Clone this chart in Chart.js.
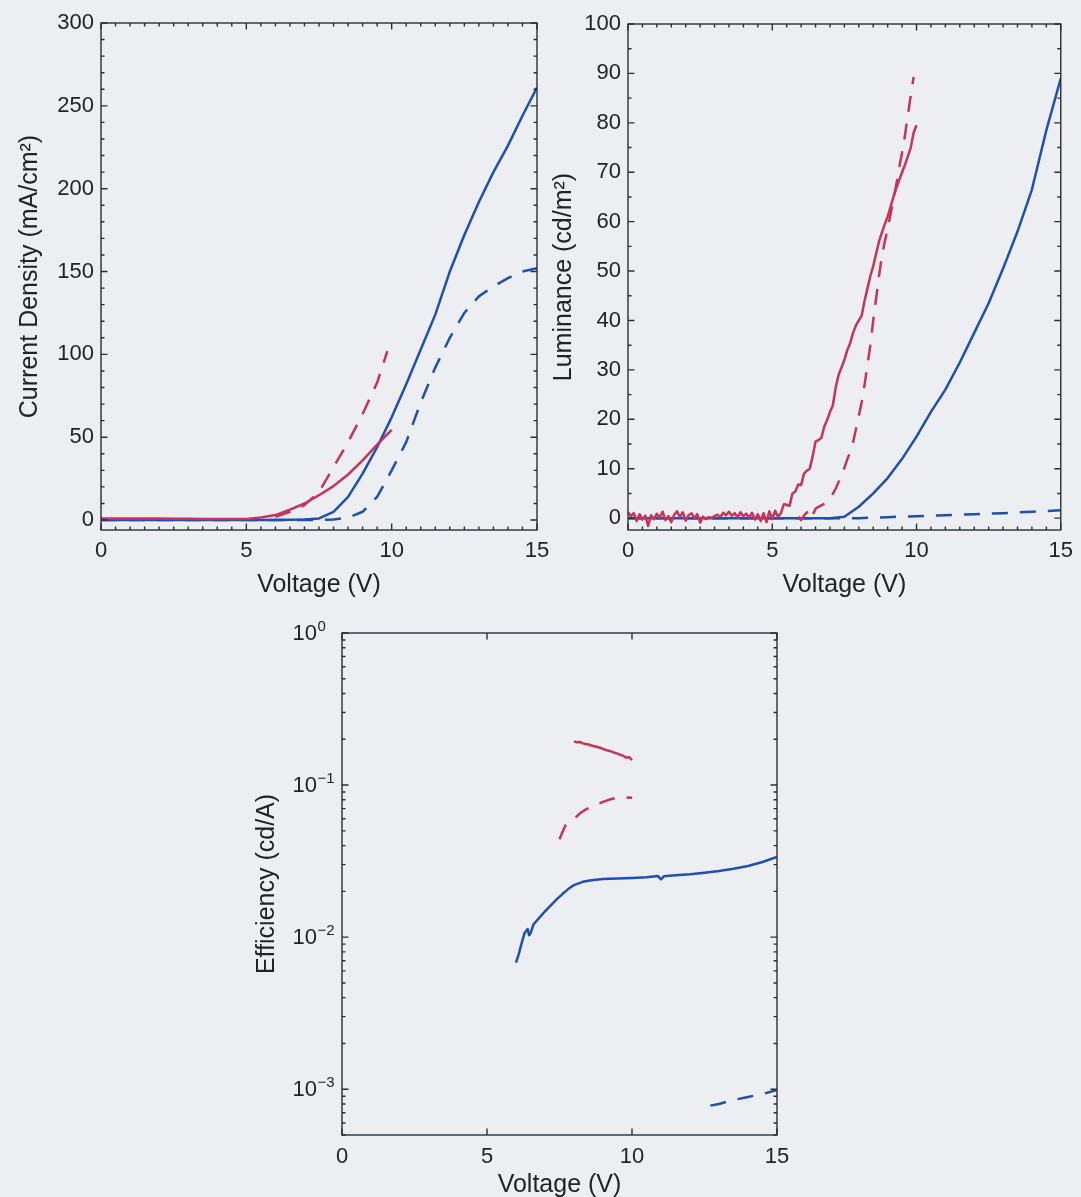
<!DOCTYPE html>
<html>
<head>
<meta charset="utf-8">
<script src="https://cdn.jsdelivr.net/npm/chart.js@4.4.1/dist/chart.umd.min.js"></script>
<style>
  html, body { margin: 0; padding: 0; width: 1081px; height: 1197px; overflow: hidden; background: #eceef1; }
  canvas { position: absolute; left: 0; top: 0; }
</style>
</head>
<body>
<canvas id="cJ" width="1081" height="1240"></canvas>
<canvas id="cL" width="1081" height="1240"></canvas>
<canvas id="cE" width="1081" height="1240"></canvas>
<script>
// ---------- Current density J (mA/cm^2) vs voltage ----------
const jRedSolidV  = [0, 0.5, 1, 1.5, 2, 2.5, 3, 3.5, 4, 4.5, 5, 5.5, 6, 6.5, 7, 7.5, 8, 8.5, 9, 9.5, 10];
const jRedSolid   = [1.0, 1.0, 1.0, 0.9, 0.9, 0.8, 0.8, 0.7, 0.6, 0.6, 0.7, 1.5, 3.0, 6.3, 10.0, 15.0, 20.5, 27.5, 36.0, 45.5, 54.5];
const jRedDashV   = [6, 6.5, 7, 7.5, 8, 8.5, 9, 9.5, 9.85];
const jRedDash    = [2, 5, 9, 17, 32, 47, 64, 83, 102];
const jBlueSolidV = [0, 1, 2, 3, 4, 5, 6, 7, 7.5, 8, 8.5, 9, 9.5, 10, 10.5, 11, 11.5, 12, 12.5, 13, 13.5, 14, 14.5, 15];
const jBlueSolid  = [0, 0, 0, 0, 0, 0, 0, 0.3, 1, 5, 14, 28, 44, 62, 82, 103, 124, 150, 172, 192, 210, 226, 244, 261];
const jBlueDashV  = [0, 7, 8, 8.5, 9, 9.5, 10, 10.5, 11, 11.5, 12, 12.5, 13, 13.5, 14, 14.5, 15];
const jBlueDash   = [0, 0, 0.3, 1.5, 5, 14, 30, 47, 71, 92, 110, 125, 135, 141, 146, 150, 152];

// ---------- Luminance (cd/m^2) vs voltage ----------
const lumRedSolidV = [
  0.0, 0.1, 0.2, 0.3, 0.4, 0.5, 0.6, 0.7, 0.8, 0.9,
  1.0, 1.1, 1.2, 1.3, 1.4, 1.5, 1.6, 1.7, 1.8, 1.9,
  2.0, 2.1, 2.2, 2.3, 2.4, 2.5, 2.6, 2.7, 2.8, 2.9,
  3.0, 3.1, 3.2, 3.3, 3.4, 3.5, 3.6, 3.7, 3.8, 3.9,
  4.0, 4.1, 4.2, 4.3, 4.4, 4.5, 4.6, 4.7, 4.8, 4.9,
  5.0, 5.1, 5.2, 5.3, 5.4, 5.5, 5.6, 5.7, 5.8, 5.9,
  6.0, 6.1, 6.2, 6.3, 6.4, 6.5, 6.6, 6.7, 6.8, 6.9,
  7.0, 7.1, 7.2, 7.3, 7.4, 7.5, 7.6, 7.7, 7.8, 7.9,
  8.0, 8.1, 8.2, 8.3, 8.4, 8.5, 8.6, 8.7, 8.8, 8.9,
  9.0, 9.1, 9.2, 9.3, 9.4, 9.5, 9.6, 9.7, 9.8, 9.9,
  10.0];
const lumRedSolid = [
  1.2, 0.4, 1.0, -0.6, 0.8, -0.3, 0.5, -1.6, 0.6, -0.2,
  0.9, 0.1, 1.3, -0.4, 0.4, -0.8, 0.7, 1.4, 0.2, 1.2,
  -0.5, 0.6, 1.0, 0.0, 0.8, -0.9, 0.3, -0.2, 0.2, 0.1,
  0.4, 0.7, 0.3, 1.1, 0.6, 1.3, 0.5, 1.0, 0.2, 1.2,
  0.4, 0.9, 0.1, 1.1, -0.3, 0.8, -0.6, 1.0, -0.8, 1.4,
  -0.2, 1.5, 0.3, 1.0, 2.8, 2.7, 2.5, 5.0, 5.4, 6.8,
  6.7, 9.0, 9.6, 10.0, 12.5, 15.5, 15.8, 16.2, 18.5, 19.8,
  21.5, 22.8, 26.5, 29.0, 30.5, 32.0, 34.0, 35.4, 37.5, 39.0,
  40.0, 41.0, 44.0, 46.5, 49.0, 51.0, 53.5, 56.0, 57.8, 59.5,
  61.0, 63.0, 65.0, 66.8, 68.4, 70.0, 71.5, 73.2, 75.0, 78.0,
  79.5];
const lumRedDashV = [
  5.9, 6.0, 6.1, 6.2, 6.3, 6.4, 6.5, 6.6, 6.7, 6.8, 6.9,
  7.0, 7.1, 7.2, 7.3, 7.4, 7.5, 7.6, 7.7, 7.8, 7.9,
  8.0, 8.1, 8.2, 8.3, 8.4, 8.5, 8.6, 8.7, 8.8, 8.9,
  9.0, 9.1, 9.2, 9.3, 9.4, 9.5, 9.6, 9.7, 9.8, 9.9];
const lumRedDash = [
  0.3, -0.4, 0.5, 1.2, -0.2, 0.6, 1.9, 2.3, 2.6, 2.9, 3.2,
  4.0, 4.9, 6.0, 7.3, 8.8, 10.2, 11.9, 13.4, 15.3, 18.0,
  20.7, 23.5, 27.0, 31.0, 35.0, 40.0, 44.5, 49.0, 53.0, 56.0,
  58.5, 61.5, 64.5, 67.5, 71.0, 74.0, 77.5, 81.5, 85.5, 89.3];
const lumBlueSolidV = [0, 7, 7.5, 8, 8.5, 9, 9.5, 10, 10.5, 11, 11.5, 12, 12.5, 13, 13.5, 14, 14.5, 15];
const lumBlueSolid  = [0, 0, 0.3, 2.3, 5.0, 8.1, 12.0, 16.5, 21.5, 26.0, 31.5, 37.5, 43.5, 50.5, 58.0, 66.5, 78.5, 89.0];
const lumBlueDashV  = [0, 8, 9, 10, 11, 12, 13, 14, 15];
const lumBlueDash   = [0, 0, 0.2, 0.4, 0.6, 0.8, 1.0, 1.3, 1.6];

// ---------- Efficiency (cd/A) vs voltage ----------
const effRedSolidV = [8.0, 8.1, 8.2, 8.3, 8.4, 8.5, 8.6, 8.7, 8.8, 8.9, 9.0, 9.1, 9.2, 9.3, 9.4, 9.5, 9.6, 9.7, 9.8, 9.9, 10.0];
const effRedSolid  = [0.194, 0.191, 0.192, 0.188, 0.186, 0.185, 0.182, 0.180, 0.178, 0.176, 0.173, 0.170, 0.168, 0.166, 0.163, 0.161, 0.158, 0.156, 0.151, 0.153, 0.146];
const effRedDashV  = [7.5, 7.6, 7.7, 7.8, 7.9, 8.0, 8.2, 8.4, 8.6, 8.8, 9.0, 9.2, 9.4, 9.6, 9.8, 10.0];
const effRedDash   = [0.044, 0.049, 0.054, 0.056, 0.058, 0.060, 0.065, 0.069, 0.072, 0.075, 0.0775, 0.080, 0.082, 0.083, 0.083, 0.0825];
const effBlueSolidV = [6.0, 6.1, 6.2, 6.3, 6.4, 6.45, 6.5, 6.6, 6.8, 7.0, 7.2, 7.4, 7.6, 7.8, 8.0, 8.3, 8.6, 9.0, 9.5, 10.0, 10.5, 10.9, 11.0, 11.1, 11.5, 12.0, 12.5, 13.0, 13.5, 14.0, 14.5, 15.0];
const effBlueSolid  = [0.0068, 0.0078, 0.0092, 0.0107, 0.0113, 0.0103, 0.0106, 0.0121, 0.0134, 0.0148, 0.0162, 0.0177, 0.0192, 0.0207, 0.0220, 0.0231, 0.0237, 0.0241, 0.0243, 0.0245, 0.0248, 0.0252, 0.0240, 0.0251, 0.0255, 0.0259, 0.0265, 0.0272, 0.0282, 0.0294, 0.0312, 0.0337];
const effBlueDashV  = [12.7, 13.0, 13.5, 14.0, 14.5, 15.0];
const effBlueDash   = [0.00078, 0.0008, 0.00085, 0.00089, 0.00093, 0.00099];

// ---------- tick values and labels ----------
const voltTicks = [0, 5, 10, 15];
const voltTickLabels = ['0', '5', '10', '15'];
const jTicks = [0, 50, 100, 150, 200, 250, 300];
const jTickLabels = ['0', '50', '100', '150', '200', '250', '300'];
const lumTicks = [0, 10, 20, 30, 40, 50, 60, 70, 80, 90, 100];
const lumTickLabels = ['0', '10', '20', '30', '40', '50', '60', '70', '80', '90', '100'];
const effTicks = [1, 0.1, 0.01, 0.001];
const effTickBase = ['10', '10', '10', '10'];
const effTickExp = ['0', '\u22121', '\u22122', '\u22123'];

// ---------- styling ----------
const FONT = "'Liberation Sans', Arial, Helvetica, sans-serif";
const INK = '#202328';
const AXIS = '#2a2f37';
const RED = '#c8335a';
const BLUE = '#1f4fb3';
const TICK_PX = 22, TITLE_PX = 25, EXP_PX = 15;
const PAGE_W = 1081, PAGE_H = 1240;

Chart.defaults.font.family = FONT;
Chart.defaults.color = INK;

function steps(from, to, step) {
  const out = [];
  for (let v = from; v <= to + 1e-9; v += step) out.push(+v.toFixed(6));
  return out;
}
function logMinor(lo, hi) {
  const out = [];
  for (let e = -4; e <= 0; e++) for (let m = 2; m <= 9; m++) {
    const v = m * Math.pow(10, e);
    if (v >= lo - 1e-12 && v <= hi + 1e-12) out.push(v);
  }
  return out;
}

function series(xs, ys, color, dashed) {
  return {
    data: xs.map((x, i) => ({ x, y: ys[i] })),
    borderColor: color,
    borderWidth: 2.5,
    borderDash: dashed ? [16, 12] : [],
    borderJoinStyle: 'round',
    pointRadius: 0,
    fill: false,
    tension: 0
  };
}

// Box around the plot area with inward major/minor ticks on all four sides,
// plus 10^n labels for logarithmic axes.
function framePlugin(f) {
  return {
    id: 'frame',
    afterDatasetsDraw(chart) {
      const { ctx, chartArea: a } = chart;
      const xs = chart.scales.x, ys = chart.scales.y;
      ctx.save();
      ctx.strokeStyle = AXIS;
      ctx.lineWidth = 1.4;
      ctx.beginPath();
      const tx = (vals, len) => vals.forEach(v => {
        const px = xs.getPixelForValue(v);
        ctx.moveTo(px, a.bottom); ctx.lineTo(px, a.bottom - len);
        ctx.moveTo(px, a.top); ctx.lineTo(px, a.top + len);
      });
      const ty = (vals, len) => vals.forEach(v => {
        const py = ys.getPixelForValue(v);
        if (py < a.top - 0.5 || py > a.bottom + 0.5) return;
        ctx.moveTo(a.left, py); ctx.lineTo(a.left + len, py);
        ctx.moveTo(a.right, py); ctx.lineTo(a.right - len, py);
      });
      tx(f.xMajor, 6.5); tx(f.xMinor, 3.5);
      ty(f.yMajor, 6.5); ty(f.yMinor, 3.5);
      ctx.stroke();
      ctx.strokeRect(a.left, a.top, a.right - a.left, a.bottom - a.top);

      if (f.logLabels) {
        ctx.fillStyle = INK;
        f.logLabels.values.forEach((v, i) => {
          const py = ys.getPixelForValue(v);
          const bx = a.left - 25;
          ctx.font = TICK_PX + 'px ' + FONT;
          ctx.textAlign = 'right';
          ctx.textBaseline = 'middle';
          ctx.fillText(f.logLabels.base[i], bx, py + 1);
          ctx.font = EXP_PX + 'px ' + FONT;
          ctx.textAlign = 'left';
          ctx.textBaseline = 'alphabetic';
          ctx.fillText(f.logLabels.exp[i], bx + 0.5, py - 2);
        });
      }
      ctx.restore();
    }
  };
}

function panel(id, p) {
  const lhT = TITLE_PX * 1.2;
  const yW = p.area.left - p.padLeft;
  const xH = p.xTitleY + lhT / 2 - p.area.bottom;
  const yScale = {
    type: p.yType,
    min: p.yMin,
    max: p.yMax,
    grid: { display: false, drawTicks: false },
    border: { display: false },
    afterFit: s => { s.width = yW; },
    title: {
      display: true,
      text: p.yTitle,
      color: INK,
      font: { size: TITLE_PX },
      padding: { top: p.yTitleX - p.padLeft - lhT / 2, bottom: 0 }
    }
  };
  if (p.yTicks) {
    yScale.afterBuildTicks = s => { s.ticks = p.yTicks.map(v => ({ value: v })); };
    yScale.ticks = {
      padding: 7, color: INK, font: { size: TICK_PX }, autoSkip: false,
      callback: (v, i) => p.yTickLabels[i]
    };
  } else {
    yScale.ticks = { display: false };
  }

  return new Chart(document.getElementById(id), {
    type: 'line',
    data: { datasets: p.datasets },
    options: {
      responsive: false,
      animation: false,
      events: [],
      layout: {
        padding: {
          left: p.padLeft,
          top: p.area.top,
          right: PAGE_W - p.area.right,
          bottom: PAGE_H - p.area.bottom - xH
        }
      },
      plugins: { legend: { display: false }, tooltip: { enabled: false } },
      scales: {
        x: {
          type: 'linear',
          min: 0,
          max: 15,
          grid: { display: false, drawTicks: false },
          border: { display: false },
          afterFit: s => { s.height = xH; },
          afterBuildTicks: s => { s.ticks = voltTicks.map(v => ({ value: v })); },
          ticks: {
            padding: p.xTickPad, color: INK, font: { size: TICK_PX },
            autoSkip: false, maxRotation: 0,
            callback: (v, i) => voltTickLabels[i]
          },
          title: {
            display: true, text: 'Voltage (V)', color: INK,
            font: { size: TITLE_PX }, padding: { top: 0, bottom: 0 }
          }
        },
        y: yScale
      }
    },
    plugins: [framePlugin(p.frame)]
  });
}

// Current density
panel('cJ', {
  area: { left: 101, top: 23, right: 537, bottom: 530 },
  padLeft: 0, yTitleX: 30, xTitleY: 585, xTickPad: 8,
  yType: 'linear', yMin: -6, yMax: 300,
  yTicks: jTicks, yTickLabels: jTickLabels,
  yTitle: 'Current Density (mA/cm\u00B2)',
  datasets: [
    series(jRedSolidV, jRedSolid, RED, false),
    series(jRedDashV, jRedDash, RED, true),
    series(jBlueSolidV, jBlueSolid, BLUE, false),
    series(jBlueDashV, jBlueDash, BLUE, true)
  ],
  frame: { xMajor: voltTicks, xMinor: steps(0, 15, 0.5), yMajor: jTicks, yMinor: steps(0, 300, 10) }
});

// Luminance
panel('cL', {
  area: { left: 628, top: 24, right: 1064, bottom: 530 },
  padLeft: 530, yTitleX: 564, xTitleY: 585, xTickPad: 8,
  yType: 'linear', yMin: -2.4, yMax: 100,
  yTicks: lumTicks, yTickLabels: lumTickLabels,
  yTitle: 'Luminance (cd/m\u00B2)',
  datasets: [
    series(lumRedSolidV, lumRedSolid, RED, false),
    series(lumRedDashV, lumRedDash, RED, true),
    series(lumBlueSolidV, lumBlueSolid, BLUE, false),
    series(lumBlueDashV, lumBlueDash, BLUE, true)
  ],
  frame: { xMajor: voltTicks, xMinor: steps(0, 15, 0.5), yMajor: lumTicks, yMinor: steps(0, 100, 5) }
});

// Efficiency (log scale)
panel('cE', {
  area: { left: 342, top: 633, right: 777, bottom: 1135 },
  padLeft: 230, yTitleX: 267, xTitleY: 1185, xTickPad: 9,
  yType: 'logarithmic', yMin: 0.0005, yMax: 1,
  yTitle: 'Efficiency (cd/A)',
  datasets: [
    series(effRedSolidV, effRedSolid, RED, false),
    series(effRedDashV, effRedDash, RED, true),
    series(effBlueSolidV, effBlueSolid, BLUE, false),
    series(effBlueDashV, effBlueDash, BLUE, true)
  ],
  frame: {
    xMajor: voltTicks, xMinor: [],
    yMajor: effTicks, yMinor: logMinor(0.0005, 1),
    logLabels: { values: effTicks, base: effTickBase, exp: effTickExp }
  }
});
</script>
</body>
</html>
